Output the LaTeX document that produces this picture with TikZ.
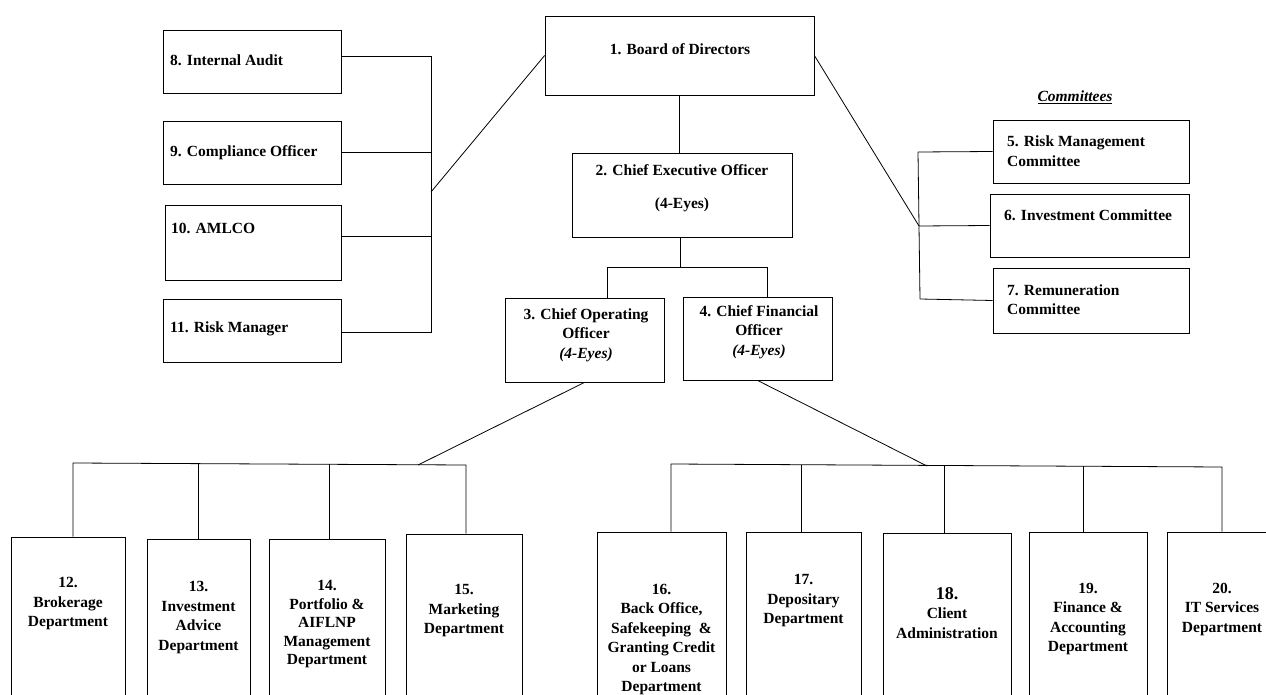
\documentclass[tikz,border=0pt]{standalone}
\usepackage{fontspec}
\setmainfont{Liberation Serif}
\usetikzlibrary{calc}
\begin{document}
\begin{tikzpicture}[x=1pt,y=-1pt,
  box/.style={draw, line width=0.8pt, inner sep=0pt},
  ln/.style={line width=0.8pt},
  t/.style={font=\fontsize{15.5}{19.5}\selectfont\bfseries, inner sep=0pt, align=center},
  lt/.style={t, anchor=west, align=left}]
\useasboundingbox (0,0) rectangle (1266,695);
% top boxes
\node[box, minimum width=269pt, minimum height=79pt] (b1) at (679.5,55.5) {};
\node[box, minimum width=220pt, minimum height=84pt] (b2) at (682,195) {};
\node[box, minimum width=159pt, minimum height=84pt] (b3) at (584.5,340) {};
\node[box, minimum width=149pt, minimum height=83pt] (b4) at (757.5,338.5) {};
% left boxes
\node[box, minimum width=178pt, minimum height=63pt] (b8) at (252,61.5) {};
\node[box, minimum width=178pt, minimum height=63pt] (b9) at (252,152.5) {};
\node[box, minimum width=176pt, minimum height=75pt] (b10) at (253,242.5) {};
\node[box, minimum width=178pt, minimum height=63pt] (b11) at (252,330.5) {};
% committees
\node[box, minimum width=196pt, minimum height=63pt] (b5) at (1091,151.5) {};
\node[box, minimum width=199pt, minimum height=63pt] (b6) at (1089.5,225.5) {};
\node[box, minimum width=196pt, minimum height=65pt] (b7) at (1091,300.5) {};
% bottom boxes
\node[box, minimum width=114pt, minimum height=173pt] (b12) at (68,623.5) {};
\node[box, minimum width=103pt, minimum height=171pt] (b13) at (198.5,624.5) {};
\node[box, minimum width=116pt, minimum height=171pt] (b14) at (327,624.5) {};
\node[box, minimum width=116pt, minimum height=176pt] (b15) at (464,622) {};
\node[box, minimum width=129pt, minimum height=178pt] (b16) at (661.5,621) {};
\node[box, minimum width=115pt, minimum height=178pt] (b17) at (803.5,621) {};
\node[box, minimum width=128pt, minimum height=177pt] (b18) at (947,621.5) {};
\node[box, minimum width=118pt, minimum height=178pt] (b19) at (1088,621) {};
\node[box, minimum width=110pt, minimum height=178pt] (b20) at (1222,621) {};
% texts
\node[t] (t1) at (680,49) {1. Board of Directors};
\node[t] (t2a) at (682,170) {2. Chief Executive Officer};
\node[t] (t2b) at (682,205) {(4-Eyes)};
\node[t] (t3) at (586,335) {3. Chief Operating\\Officer\\\textit{(4-Eyes)}};
\node[t] (t4) at (759,332) {4. Chief Financial\\Officer\\\textit{(4-Eyes)}};
\node[lt] (t8) at (170,60) {8. Internal Audit};
\node[lt] (t9) at (170,153) {9. Compliance Officer};
\node[lt] (t10) at (171,228) {10. AMLCO};
\node[lt] (t11) at (170,329) {11. Risk Manager};
\node[t, font=\fontsize{15.5}{19.5}\selectfont\bfseries\itshape] (tc) at (1075,97) {\underline{Committees}};
\node[lt] (t5) at (1007,151) {5. Risk Management\\Committee};
\node[lt] (t6) at (1004,215) {6. Investment Committee};
\node[lt] (t7) at (1007,299.5) {7. Remuneration\\Committee};
\node[t] (t12) at (68,604) {12.\\Brokerage\\Department};
\node[t] (t13) at (198.5,617.5) {13.\\Investment\\Advice\\Department};
\node[t, font=\fontsize{15.5}{18.5}\selectfont\bfseries] (t14) at (327,624.5) {14.\\Portfolio \&\\AIFLNP\\Management\\Department};
\node[t] (t15) at (464,611) {15.\\Marketing\\Department};
\node[t] (t16) at (661.5,639.5) {16.\\Back Office,\\Safekeeping\ \ \&\\Granting Credit\\or Loans\\Department};
\node[t] (t17) at (803.5,601) {17.\\Depositary\\Department};
\node[t] (t18) at (947,613) {{\fontsize{18}{19.5}\selectfont 18.}\\Client\\Administration};
\node[t] (t19) at (1088,619) {19.\\Finance \&\\Accounting\\Department};
\node[t] (t20) at (1222,609) {20.\\IT Services\\Department};
% connectors: board - CEO - COO/CFO
\coordinate (j2) at (680,267);
\coordinate (j3) at (607,267);
\coordinate (j4) at (767,267);
\draw[ln] (b1.south) -- (b1.south |- b2.north);
\draw[ln] (j2 |- b2.south) -- (j2);
\draw[ln] (j3 |- b3.north) -- (j3) -- (j4) -- (j4 |- b4.north);
% left bus
\coordinate (lb1) at (431,56);
\coordinate (lb3) at (431,236);
\coordinate (lb4) at (431,332);
\coordinate (lbm) at (431,192);
\draw[ln] (b8.east |- lb1) -- (lb1) -- (lb4) -- (b11.east |- lb4);
\draw[ln] (b9.east) -- (b9.east -| lb1);
\draw[ln] (b10.east |- lb3) -- (lb3);
\draw[ln] (b1.west) -- (lbm);
% right bus
\coordinate (rb1) at (918,152);
\coordinate (rbm) at (919,226);
\coordinate (rb3) at (920,299);
\draw[ln] (b1.east) -- (rbm);
\draw[ln] (rb1) -- (rbm) -- (rb3);
\draw[ln] (rb1) -- (b5.west);
\draw[ln] (rbm) -- (b6.west);
\draw[ln] (rb3) -- (b7.west);
% bottom left bus
\coordinate (bl) at (418,465);
\coordinate (bla) at (73,463);
\coordinate (bl13) at (198,464);
\coordinate (bl14) at (329,464);
\coordinate (blb) at (466,465);
\draw[ln] (b3.south) -- (bl);
\draw[ln] (bla |- b12.north) -- (bla) -- (blb) -- (blb |- b15.north);
\draw[ln] (bl13) -- (bl13 |- b13.north);
\draw[ln] (bl14) -- (bl14 |- b14.north);
% bottom right bus
\coordinate (br) at (927,466);
\coordinate (bra) at (671,464);
\coordinate (br17) at (801,465);
\coordinate (br18) at (944,466);
\coordinate (br19) at (1083,466);
\coordinate (brb) at (1222,467);
\draw[ln] (b4.south) -- (br);
\draw[ln] (bra |- b16.north) -- (bra) -- (brb) -- (brb |- b20.north);
\draw[ln] (br17) -- (br17 |- b17.north);
\draw[ln] (br18) -- (br18 |- b18.north);
\draw[ln] (br19) -- (br19 |- b19.north);
\end{tikzpicture}
\end{document}
